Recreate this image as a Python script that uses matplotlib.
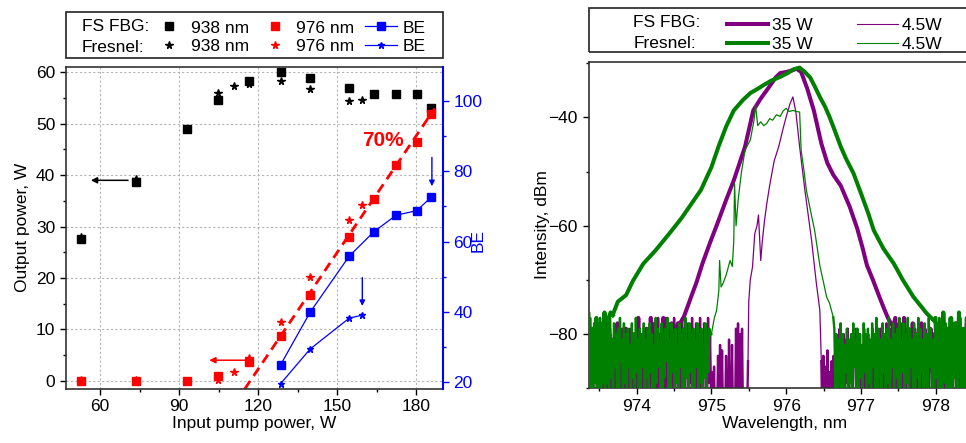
import numpy as np
import matplotlib.pyplot as plt
from matplotlib.lines import Line2D
from matplotlib.patches import Rectangle
from matplotlib.ticker import MultipleLocator

plt.rcParams['font.family'] = ['Liberation Sans', 'DejaVu Sans']
plt.rcParams['font.size'] = 12.5

# ---------------- left panel: output power / BE vs pump ----------------
pump_fbg = [52.8, 73.8, 93.1, 104.8, 116.6, 128.5, 139.7, 154.5, 163.9, 172.3, 180.1, 185.7]
fbg_938 = [27.6, 38.6, 49.0, 54.6, 58.3, 60.0, 58.9, 56.9, 55.8, 55.8, 55.8, 53.0]
fbg_976 = [0.0, 0.0, 0.0, 0.9, 3.6, 8.8, 16.6, 27.9, 35.3, 41.9, 46.4, 51.9]

pump_fres = [52.8, 73.8, 104.8, 110.7, 116.6, 128.5, 139.7, 154.5, 159.5]
fres_938 = [28.0, 39.2, 56.0, 57.4, 57.8, 58.4, 56.7, 54.4, 54.7]
fres_976 = [0.2, 0.2, 0.1, 1.7, 4.4, 11.4, 20.1, 31.3, 34.1]

pump_be_fbg = [128.5, 139.7, 154.5, 163.9, 172.3, 180.1, 185.7]
be_fbg = [24.8, 39.8, 55.8, 62.8, 67.5, 68.8, 72.7]
pump_be_fres = [128.5, 139.7, 154.5, 159.5]
be_fres = [19.4, 29.3, 38.1, 39.0]

# linear fit of 976 nm output (slope ~70%)
fit_x = [114.9, 187.0]
fit_y = [-1.6, 53.0]

# ---------------- right panel: spectra ----------------
# main (above noise floor) parts
gk_wl = [973.68, 973.75, 973.86, 973.95, 974.09, 974.25, 974.44, 974.6, 974.75, 974.86, 975.0,
         975.1, 975.2, 975.3, 975.42, 975.52, 975.62, 975.7, 975.8, 975.92, 976.02, 976.1, 976.18,
         976.25, 976.32, 976.38, 976.45, 976.52, 976.58, 976.66, 976.73, 976.8, 976.9, 977.0,
         977.1, 977.17, 977.3, 977.44, 977.56, 977.7, 977.8, 977.88, 977.97]
gk_db = [-76.5, -74.0, -72.8, -70.2, -67.0, -64.6, -61.4, -58.6, -55.6, -53.4, -49.2,
         -45.2, -41.6, -38.7, -36.8, -35.5, -34.7, -34.0, -33.2, -32.5, -31.8, -31.1, -30.8,
         -31.6, -32.6, -34.2, -36.2, -38.0, -39.9, -42.8, -45.4, -47.6, -50.3, -54.0,
         -57.8, -60.8, -64.2, -67.0, -70.0, -73.1, -74.8, -76.2, -77.4]

pk_wl = [974.58, 974.63, 974.73, 974.8, 974.88, 974.98, 975.08, 975.19, 975.3, 975.38, 975.45,
         975.56, 975.66, 975.77, 975.86, 975.92, 976.0, 976.08, 976.14, 976.2, 976.28, 976.37,
         976.47, 976.55, 976.63, 976.73, 976.85, 976.95, 977.02, 977.08, 977.16, 977.24, 977.3,
         977.36, 977.43]
pk_db = [-78.0, -76.9, -73.1, -70.5, -67.0, -63.2, -59.6, -55.5, -51.6, -48.3, -45.4,
         -38.7, -36.5, -34.4, -32.6, -31.8, -31.6, -31.3, -31.0, -31.6, -34.6, -38.7,
         -44.8, -48.4, -50.6, -52.6, -56.5, -60.5, -64.0, -67.3, -70.0, -72.9, -75.0,
         -77.0, -78.7]

gt_wl = [975.0, 975.04, 975.07, 975.1, 975.11, 975.13, 975.16, 975.2, 975.25, 975.28, 975.3,
         975.31, 975.33, 975.36, 975.4, 975.45, 975.52, 975.57, 975.59, 975.62, 975.66, 975.7,
         975.74, 975.78, 975.82, 975.87, 975.92, 975.96, 976.0, 976.04, 976.09, 976.14, 976.18,
         976.2, 976.24, 976.27, 976.33, 976.38, 976.42, 976.45, 976.5, 976.54, 976.58, 976.63]
gt_db = [-80.0, -77.0, -75.6, -72.0, -66.4, -71.3, -70.5, -69.0, -66.4, -67.5, -62.7,
         -52.2, -60.0, -55.0, -50.3, -46.0, -44.2, -40.5, -37.7, -41.5, -40.8, -41.5,
         -41.1, -40.2, -40.5, -39.5, -39.8, -38.8, -38.3, -38.9, -38.7, -38.9, -39.0,
         -46.0, -50.0, -53.4, -57.5, -60.8, -64.5, -67.3, -70.5, -73.1, -74.3, -76.9]

pt_wl = [975.49, 975.5, 975.52, 975.55, 975.58, 975.61, 975.63, 975.66, 975.68, 975.71, 975.74,
         975.78, 975.8, 975.84, 975.9, 975.96, 976.0, 976.05, 976.09, 976.13, 976.18, 976.25,
         976.34, 976.4, 976.45, 976.47]
pt_db = [-85.0, -74.0, -70.0, -67.6, -61.5, -60.0, -58.0, -66.4, -63.0, -59.1, -56.0,
         -52.5, -51.0, -48.0, -45.4, -42.0, -39.9, -37.5, -36.2, -39.0, -45.4, -53.4,
         -62.7, -70.2, -75.6, -85.0]

# noise floor samples, in dB below 0 dBm, on each side of the main parts
gk_noise_l = """78 88 76 92 79 85 77 90 78 86 76 89 77 76"""
gk_noise_r = """77 86 78 91 76 84 79 93 77 87 78 90 76 85 79 92 77 88 78 84 76 91 79 86 77 89"""
pk_noise_l = """80 89 79 93 81 87 78 95 80 88 82 91 79 86 81 94 78 89 80 92 79 87 81 96
80 88 77 91 82 86 79 93 77 89 78 95 81 87 77 90 80 86 78 92 79 78"""
pk_noise_r = """77 88 78 94 77 86 79 91 78 89 80 96 78 87 81 92 79 85 80 93 78 88 81 90
79 95 80 86 78 91 81 87 79 94 80 88 78 92 77 86 78 90"""
gt_noise_l = """79 91 78 88 80 95 77 86 81 92 78 89 79 96 80 85
77 93 82 89 78 94 80 87 79 92 77 88 81 95 78 86
80 90 79 96 77 85 81 93 78 89 80 91 79 86 82 95
78 88 80 92 77 87 81 94 79 90 80 86 78 97 81 88
79 93 78 87 80 91 82 95 77 89 79 86 81 92 78 96
80 88 79 85 77 94 81 90 78 87 80 93 79 89 82 96
78 86 80 91 79 95 77 88 81 92 78 87 80 94 79 90
81 86 78 93 80 89 79 95 82 88 78 91 80 87 79 80"""
gt_noise_r = """79 90 80 95 81 88 78 92 80 96 82 87 79 93 81 89
80 94 78 86 81 91 79 95 80 88 82 92 78 87 80 96
79 89 81 93 78 86 80 91 77 95 79 88 81 92 78 87
80 94 79 89 77 96 81 86 78 92 80 88 79 95 77 90
81 87 78 93 80 89 77 96 79 86 81 91 78 94 80 88
77 92 79 87 81 95 78 89 80 93 77 86 79 91 81 96
78 88 80 94 77 87 79 92 81 89 78 95 80 86 77 93
79 90 81 88 78 96 80 87 77 91 79 94 81 89 78 92
80 86 77 95 79 88 81 93 78 90 80 87 77 94 79 88"""
pt_noise_l = """81 92 80 88 83 95 79 87 82 93 80 89 81 96 79 86
83 91 80 94 82 88 79 92 81 87 80 95 83 89 79 93
82 86 80 91 81 96 79 88 83 92 80 87 82 94 79 89
81 93 80 86 83 95 79 90 81 88 82 91 80 96 79 87
83 92 77 89 80 94 78 86 79 93 77 88 80 95 78 90
79 87 77 92 80 89 78 96 79 88 77 91 80 86 78 94
81 90 77 87 79 93 80 88 78 95 79 89 77 92 80 86
78 94 79 88 77 91 80 96 78 87 79 93 77 89 80 92
87 96 86 97 95 96 84 96 82 97 83 96 95 97 84 96 96 81
97 95 82 96 97 96 79 96 78 97 80 96 79 96 95 97 96 96"""
pt_noise_r = """96 84 97 86 95 83 96 87 97 85 96 84 90 80 93 81
88 79 95 82 87 80 92 81 89 79 96 83 88 80 91 82
86 79 94 81 89 80 93 82 87 79 95 81 88 80 92 83
86 79 90 81 94 80 88 82 91 79 87 81 95 80 89 78
92 81 86 79 93 80 88 78 91 81 87 79 94 80 86 78
90 82 95 79 88 81 93 80 87 82 91 79 96 81 89 80
92 78 86 81 94 79 88 80 95 82 87 79 91 81 93 80
88 79 96 81 86 80 92 78 89 82 94 79 87 81 90 80
95 79 88 81 92 80 86 82 93 79 89 81 87 78 94 80
88 81 91 79 96 80 87 82 92 79 89 81 86 80 93 78"""

wl_start = 973.30
wl_stop = 978.65


def spectrum(noise_l, main_wl, main_db, noise_r):
    # returns the three pieces (left floor, signal, right floor) as (x, y) pairs
    nl = -np.array(noise_l.split(), dtype=float)
    nr = -np.array(noise_r.split(), dtype=float)
    x_l = np.linspace(wl_start, main_wl[0], len(nl), endpoint=False)
    x_r = np.linspace(main_wl[-1], wl_stop, len(nr) + 1)[1:]
    left = (np.append(x_l, main_wl[0]), np.append(nl, main_db[0]))
    right = (np.insert(x_r, 0, main_wl[-1]), np.insert(nr, 0, main_db[-1]))
    return left, (main_wl, main_db), right


purple = '#800080'
green = '#008000'

fig = plt.figure(figsize=(9.66, 4.43), dpi=100)

# ----- left panel -----
ax = fig.add_axes([0.068, 0.1219, 0.3903, 0.7275])
ax2 = ax.twinx()

ax.set_axisbelow(True)
ax.grid(True, color='#b4b4b4', ls=(0, (2, 2)), lw=0.8)
ax.plot(pump_fres, fres_938, '*', color='k', ms=5.5)
ax.plot(pump_fbg, fbg_938, 's', color='k', ms=6)
ax.plot(pump_fbg, fbg_976, 's', color='red', ms=6)
ax.plot(pump_fres, fres_976, '*', color='red', ms=5.5)
ax.plot(fit_x, fit_y, color='red', lw=2, dashes=(3.5, 2.2))
ax.text(167.4, 46.7, '70%', color='red', fontweight='bold', fontsize=15,
        ha='center', va='center')
ax.annotate('', xy=(55.5, 39.0), xytext=(71.7, 39.0),
            arrowprops=dict(arrowstyle='-|>', color='k', lw=1.1, mutation_scale=9))
ax.annotate('', xy=(100.4, 4.0), xytext=(116.2, 4.0),
            arrowprops=dict(arrowstyle='-|>', color='red', lw=1.1, mutation_scale=9))

ax2.plot(pump_be_fbg, be_fbg, '-s', color='blue', lw=0.9, ms=5.5)
ax2.plot(pump_be_fres, be_fres, '-*', color='blue', lw=0.9, ms=5)
ax2.annotate('', xy=(185.9, 75.0), xytext=(185.9, 84.8),
             arrowprops=dict(arrowstyle='-|>', color='blue', lw=1.0, mutation_scale=8))
ax2.annotate('', xy=(159.5, 40.8), xytext=(159.5, 50.5),
             arrowprops=dict(arrowstyle='-|>', color='blue', lw=1.0, mutation_scale=8))

ax.set_xlim(47, 190)
ax.set_ylim(-1.6, 61.1)
ax2.set_ylim(17.9, 109.9)
ax.xaxis.set_major_locator(MultipleLocator(30))
ax.xaxis.set_minor_locator(MultipleLocator(15))
ax.yaxis.set_major_locator(MultipleLocator(10))
ax.yaxis.set_minor_locator(MultipleLocator(5))
ax2.yaxis.set_major_locator(MultipleLocator(20))
ax2.yaxis.set_minor_locator(MultipleLocator(10))
ax.tick_params(which='major', direction='out', length=4, width=1)
ax.tick_params(which='minor', direction='out', length=2.5, width=1)
ax2.tick_params(which='both', colors='blue', width=1)
ax2.tick_params(which='major', length=4)
ax2.tick_params(which='minor', length=2.5)
for s in ['left', 'bottom', 'top']:
    ax.spines[s].set_linewidth(1.2)
    ax.spines[s].set_color('#333333')
    ax2.spines[s].set_visible(False)
ax.spines['right'].set_visible(False)
ax2.spines['right'].set_color('blue')
ax2.spines['right'].set_linewidth(1.5)

ax.set_xlabel('Input pump power, W', labelpad=1)
ax.set_ylabel('Output power, W')
ax2.set_ylabel('BE', color='blue')
ax2.yaxis.set_label_coords(1.075, 0.462)

# left legend
lh = [Line2D([], [], ls='none', marker='s', color='k', ms=6),
      Line2D([], [], ls='none', marker='*', color='k', ms=5.5),
      Line2D([], [], ls='none', marker='s', color='red', ms=6),
      Line2D([], [], ls='none', marker='*', color='red', ms=5.5),
      Line2D([], [], ls='-', lw=0.9, marker='s', color='blue', ms=5.5),
      Line2D([], [], ls='-', lw=0.9, marker='*', color='blue', ms=5)]
fig.legend(handles=lh, labels=['938 nm', '938 nm', '976 nm', '976 nm', 'BE', 'BE'],
           ncol=3, loc='upper left', bbox_to_anchor=(0.1587, 0.954), frameon=False,
           borderpad=0, borderaxespad=0, handlelength=1.85, handletextpad=0.3,
           columnspacing=0.6, labelspacing=0.2)
fig.text(81.7 / 966, 1 - 26.3 / 443, 'FS FBG:', va='center')
fig.text(81.7 / 966, 1 - 47 / 443, 'Fresnel:', va='center')
fig.patches.append(Rectangle((65.7 / 966, 1 - 58.3 / 443), 377 / 966, 46 / 443,
                             transform=fig.transFigure, fill=False, lw=1.2, ec='#222222'))

# ----- right panel -----
ax3 = fig.add_axes([0.6094, 0.1235, 0.405, 0.7372])
curves = [(pt_noise_l, pt_wl, pt_db, pt_noise_r, purple, 0.9, 1.7),
          (pk_noise_l, pk_wl, pk_db, pk_noise_r, purple, 2.9, 2.9),
          (gt_noise_l, gt_wl, gt_db, gt_noise_r, green, 0.9, 1.7),
          (gk_noise_l, gk_wl, gk_db, gk_noise_r, green, 2.9, 2.9)]
for z, (nl, wl, db, nr, col, lw_sig, lw_floor) in enumerate(curves):
    left, sig, right = spectrum(nl, wl, db, nr)
    ax3.plot(*left, color=col, lw=lw_floor, zorder=z + 1)
    ax3.plot(*sig, color=col, lw=lw_sig, zorder=z + 1)
    ax3.plot(*right, color=col, lw=lw_floor, zorder=z + 1)

ax3.set_xlim(973.36, 978.59)
ax3.set_ylim(-90, -29.7)
ax3.xaxis.set_major_locator(MultipleLocator(1))
ax3.xaxis.set_minor_locator(MultipleLocator(0.5))
ax3.yaxis.set_major_locator(MultipleLocator(20))
ax3.yaxis.set_minor_locator(MultipleLocator(10))
ax3.tick_params(which='major', direction='out', length=4.5, width=1)
ax3.tick_params(which='minor', direction='out', length=2.5, width=1)
for s in ['left', 'bottom', 'top']:
    ax3.spines[s].set_linewidth(1.2)
    ax3.spines[s].set_color('#333333')
ax3.spines['right'].set_visible(False)
ax3.set_xlabel('Wavelength, nm', labelpad=1)
ax3.set_ylabel('Intensity, dBm', labelpad=-1)

rh = [Line2D([], [], color=purple, lw=2.9), Line2D([], [], color=green, lw=2.9),
      Line2D([], [], color=purple, lw=0.8), Line2D([], [], color=green, lw=0.8)]
fig.legend(handles=rh, labels=['35 W', '35 W', '4.5W', '4.5W'], ncol=2, loc='upper left',
           bbox_to_anchor=(0.7523, 0.959), frameon=False, borderpad=0, borderaxespad=0,
           handlelength=2.4, handletextpad=0.2, columnspacing=2.55, labelspacing=0.22)
fig.text(633.3 / 966, 1 - 22.3 / 443, 'FS FBG:', va='center')
fig.text(633.3 / 966, 1 - 43.7 / 443, 'Fresnel:', va='center')
fig.patches.append(Rectangle((588.7 / 966, 1 - 52.3 / 443), 0.45, 44.3 / 443,
                             transform=fig.transFigure, fill=False, lw=1.2, ec='#222222'))

fig.savefig('out.png', dpi=100)
